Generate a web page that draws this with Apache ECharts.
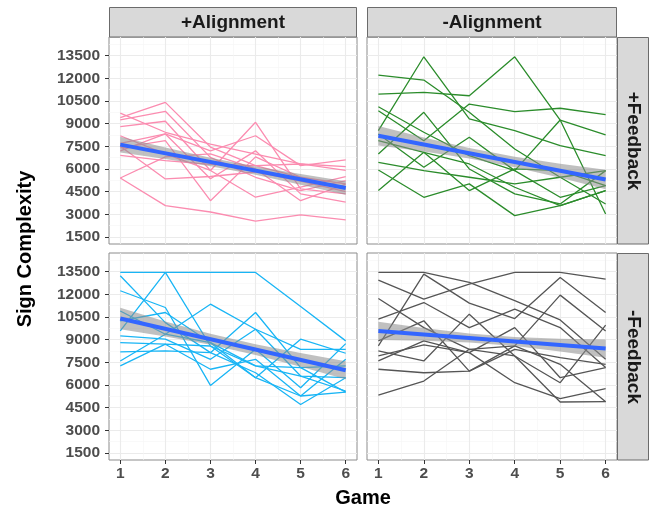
<!DOCTYPE html>
<html>
<head>
<meta charset="utf-8">
<script src="https://cdn.jsdelivr.net/npm/echarts@6/dist/echarts.min.js"></script>
<style>
html, body { margin: 0; padding: 0; background: #fff; }
#chart { width: 651px; height: 510px; }
</style>
</head>
<body>
<div id="chart"></div>
<script>
// data
var games = [1, 2, 3, 4, 5, 6];
var yTicks = [1500, 3000, 4500, 6000, 7500, 9000, 10500, 12000, 13500];
var yMinor = [2250, 3750, 5250, 6750, 8250, 9750, 11250, 12750, 14250];
var xMinor = [1.5, 2.5, 3.5, 4.5, 5.5];
var colNames = ['+Alignment', '-Alignment'];
var rowNames = ['+Feedback', '-Feedback'];

// +Alignment / +Feedback
var alignPosFbPos = [
  [9700, 8430, 7650, 6990, 6330, 5900],
  [9400, 10410, 7450, 6220, 5450, 5010],
  [9250, 9820, 6770, 5450, 4570, 5230],
  [8800, 9160, 5900, 9090, 4680, 4350],
  [7700, 8320, 7200, 8200, 6220, 6600],
  [7400, 7870, 3900, 6800, 5450, 4700],
  [7200, 8320, 5350, 7200, 4350, 3800],
  [6900, 6550, 6300, 6220, 6330, 6150],
  [5400, 6800, 7000, 6000, 3900, 5000],
  [5400, 3570, 3150, 2540, 2960, 2630],
  [8200, 7000, 5900, 4130, 4800, 5500],
  [7500, 5340, 5500, 5800, 5200, 4500]
];
// -Alignment / +Feedback
var alignNegFbPos = [
  [12220, 11890, 9750, 7320, 5450, 5890],
  [10960, 11070, 10850, 13430, 9240, 8250],
  [8540, 13430, 9310, 8540, 7540, 6880],
  [9860, 7870, 10300, 9800, 10020, 9600],
  [10120, 8430, 6880, 5890, 9240, 3020],
  [8320, 6110, 8100, 5890, 4125, 4900],
  [7870, 7100, 6330, 4790, 3570, 4570],
  [6990, 9750, 6000, 4350, 3680, 5890],
  [6440, 5890, 5450, 5010, 5450, 3680],
  [5930, 4125, 5010, 2910, 3570, 4570],
  [4570, 7100, 4570, 6000, 5890, 4900]
];
// +Alignment / -Feedback
var alignPosFbNeg = [
  [13455, 13455, 13455, 13455, 11200, 8920],
  [9580, 13455, 8580, 7260, 6590, 5600],
  [13230, 10130, 8140, 10800, 7150, 5530],
  [12240, 11130, 5970, 8360, 5820, 8740],
  [10900, 9360, 11350, 9690, 6590, 6480],
  [10250, 10800, 8800, 6480, 9030, 8100],
  [9250, 9030, 7700, 9690, 8360, 8360],
  [8800, 8700, 7040, 7700, 5270, 7700],
  [8190, 8260, 8140, 6810, 4710, 6480],
  [7590, 9360, 8800, 7260, 7150, 7260],
  [7260, 8700, 8580, 6480, 5270, 5530]
];
// -Alignment / -Feedback
var alignNegFbNeg = [
  [13455, 13455, 12790, 11580, 10310, 7700],
  [12950, 11680, 12680, 13455, 13455, 13010],
  [8590, 13340, 11420, 10400, 13120, 10800],
  [11730, 9800, 8360, 8590, 11950, 9580],
  [10360, 11460, 9800, 11020, 9800, 7150],
  [8920, 10250, 6920, 8360, 7810, 7370],
  [8250, 7590, 10690, 7920, 6150, 9960],
  [7920, 8650, 8140, 6150, 5090, 5750],
  [7040, 6810, 6920, 8590, 7370, 4890],
  [5330, 6260, 8360, 7920, 4870, 4890],
  [7590, 8920, 8140, 9800, 6480, 7150]
];

// linear fit ends (game 1, game 6) and confidence band per panel
var fitEnds = [[7610, 4740], [8200, 5300], [10400, 6970], [9580, 8410]];
var bandLow = [
  [7090, 6660, 6180, 5610, 4960, 4290],
  [7550, 7150, 6690, 6110, 5410, 4650],
  [9690, 9210, 8670, 7980, 7210, 6370],
  [8980, 8930, 8810, 8580, 8220, 7810]
];
var bandHigh = [
  [8130, 7420, 6740, 6170, 5660, 5190],
  [8850, 8090, 7390, 6810, 6350, 5950],
  [11110, 10210, 9390, 8700, 8110, 7570],
  [10180, 9770, 9410, 9180, 9060, 9010]
];

var panels = [alignPosFbPos, alignNegFbPos, alignPosFbNeg, alignNegFbNeg];
var lineColors = ['#fb8cb0', '#2b8c2b', '#19b5f5', '#555555'];

var boxes = [
  {left: 109, top: 37, width: 248, height: 207},
  {left: 367, top: 37, width: 250, height: 207},
  {left: 109, top: 253, width: 248, height: 207},
  {left: 367, top: 253, width: 250, height: 207}
];

var FONT = '"Liberation Sans", Arial, Helvetica, sans-serif';
var YMIN = 1030, YMAX = 14740;

function pairs(vals) {
  return games.map(function (g, i) { return [g, vals[i]]; });
}

var mychart = echarts.init(document.getElementById('chart'));

var grids = [], xAxes = [], yAxes = [], series = [];

boxes.forEach(function (b, p) {
  grids.push({
    left: b.left, top: b.top, width: b.width, height: b.height,
    show: true, borderColor: '#8c8c8c', borderWidth: 1, backgroundColor: '#fff'
  });
  var isBottom = p >= 2, isLeft = p % 2 === 0;
  xAxes.push({
    gridIndex: p, type: 'value', min: 0.75, max: 6.25,
    axisLine: {show: false},
    axisTick: {show: isBottom, length: 4, customValues: games, lineStyle: {color: '#333'}},
    axisLabel: {show: isBottom, customValues: games, margin: 6,
      fontSize: 15.5, fontWeight: 'bold', color: '#4d4d4d', fontFamily: FONT,
      formatter: function (v) { return String(v); }},
    splitLine: {show: true, lineStyle: {color: '#ebebeb', width: 1.1}}
  });
  yAxes.push({
    gridIndex: p, type: 'value', min: YMIN, max: YMAX,
    axisLine: {show: false},
    axisTick: {show: isLeft, length: 4, customValues: yTicks, lineStyle: {color: '#333'}},
    axisLabel: {show: isLeft, customValues: yTicks, margin: 9,
      fontSize: 15.5, fontWeight: 'bold', color: '#4d4d4d', fontFamily: FONT,
      formatter: function (v) { return String(v); }},
    splitLine: {show: true, lineStyle: {color: '#ebebeb', width: 1.1}}
  });
});

// minor grid lines on second axes
boxes.forEach(function (b, p) {
  xAxes.push({
    gridIndex: p, type: 'value', position: 'top', min: 0.75, max: 6.25,
    axisLine: {show: false},
    axisTick: {show: false, customValues: xMinor},
    axisLabel: {show: false},
    splitLine: {show: true, lineStyle: {color: '#f5f5f5', width: 0.6}}
  });
  yAxes.push({
    gridIndex: p, type: 'value', position: 'right', min: YMIN, max: YMAX,
    axisLine: {show: false},
    axisTick: {show: false, customValues: yMinor},
    axisLabel: {show: false},
    splitLine: {show: true, lineStyle: {color: '#f5f5f5', width: 0.6}}
  });
});

panels.forEach(function (lines, p) {
  lines.forEach(function (vals) {
    series.push({
      type: 'line', xAxisIndex: p, yAxisIndex: p, data: pairs(vals),
      symbol: 'none', silent: true, z: 2,
      lineStyle: {color: lineColors[p], width: 1.3}
    });
  });
  // confidence band as one polygon through the axis scales
  series.push({
    type: 'custom', xAxisIndex: p, yAxisIndex: p, silent: true, z: 3,
    data: [[games[0], bandLow[p][0]]],
    renderItem: function (params, api) {
      var pts = [];
      games.forEach(function (g, i) { pts.push(api.coord([g, bandHigh[p][i]])); });
      for (var i = games.length - 1; i >= 0; i--) {
        pts.push(api.coord([games[i], bandLow[p][i]]));
      }
      return {type: 'polygon', shape: {points: pts}, style: {fill: 'rgba(140,140,140,0.55)'}};
    }
  });
  series.push({
    type: 'line', xAxisIndex: p, yAxisIndex: p,
    data: [[games[0], fitEnds[p][0]], [games[5], fitEnds[p][1]]],
    symbol: 'none', silent: true, z: 4,
    lineStyle: {color: '#3366ff', width: 4}
  });
});

var stripStyle = {fill: '#d9d9d9', stroke: '#6b6b6b', lineWidth: 1};
var stripText = {fill: '#1a1a1a', font: 'bold 19px ' + FONT, textAlign: 'center', textVerticalAlign: 'middle'};

var graphics = [
  {type: 'rect', shape: {x: 109.5, y: 7.5, width: 247, height: 29.5}, style: stripStyle},
  {type: 'rect', shape: {x: 367.5, y: 7.5, width: 249, height: 29.5}, style: stripStyle},
  {type: 'rect', shape: {x: 617.5, y: 37.5, width: 31, height: 206.5}, style: stripStyle},
  {type: 'rect', shape: {x: 617.5, y: 253.5, width: 31, height: 206.5}, style: stripStyle},
  {type: 'text', x: 233, y: 23, style: Object.assign({text: colNames[0]}, stripText)},
  {type: 'text', x: 492, y: 23, style: Object.assign({text: colNames[1]}, stripText)},
  {type: 'text', x: 633, y: 141, rotation: -Math.PI / 2, style: Object.assign({text: rowNames[0]}, stripText)},
  {type: 'text', x: 633, y: 357, rotation: -Math.PI / 2, style: Object.assign({text: rowNames[1]}, stripText)},
  {type: 'text', x: 363, y: 498, style: {text: 'Game', fill: '#000', font: 'bold 20px ' + FONT, textAlign: 'center', textVerticalAlign: 'middle'}},
  {type: 'text', x: 25, y: 249, rotation: Math.PI / 2, style: {text: 'Sign Complexity', fill: '#000', font: 'bold 20px ' + FONT, textAlign: 'center', textVerticalAlign: 'middle'}}
];

var option = {
  animation: false,
  backgroundColor: '#fff',
  grid: grids,
  xAxis: xAxes,
  yAxis: yAxes,
  series: series,
  graphic: graphics
};
mychart.setOption(option);
</script>
</body>
</html>
